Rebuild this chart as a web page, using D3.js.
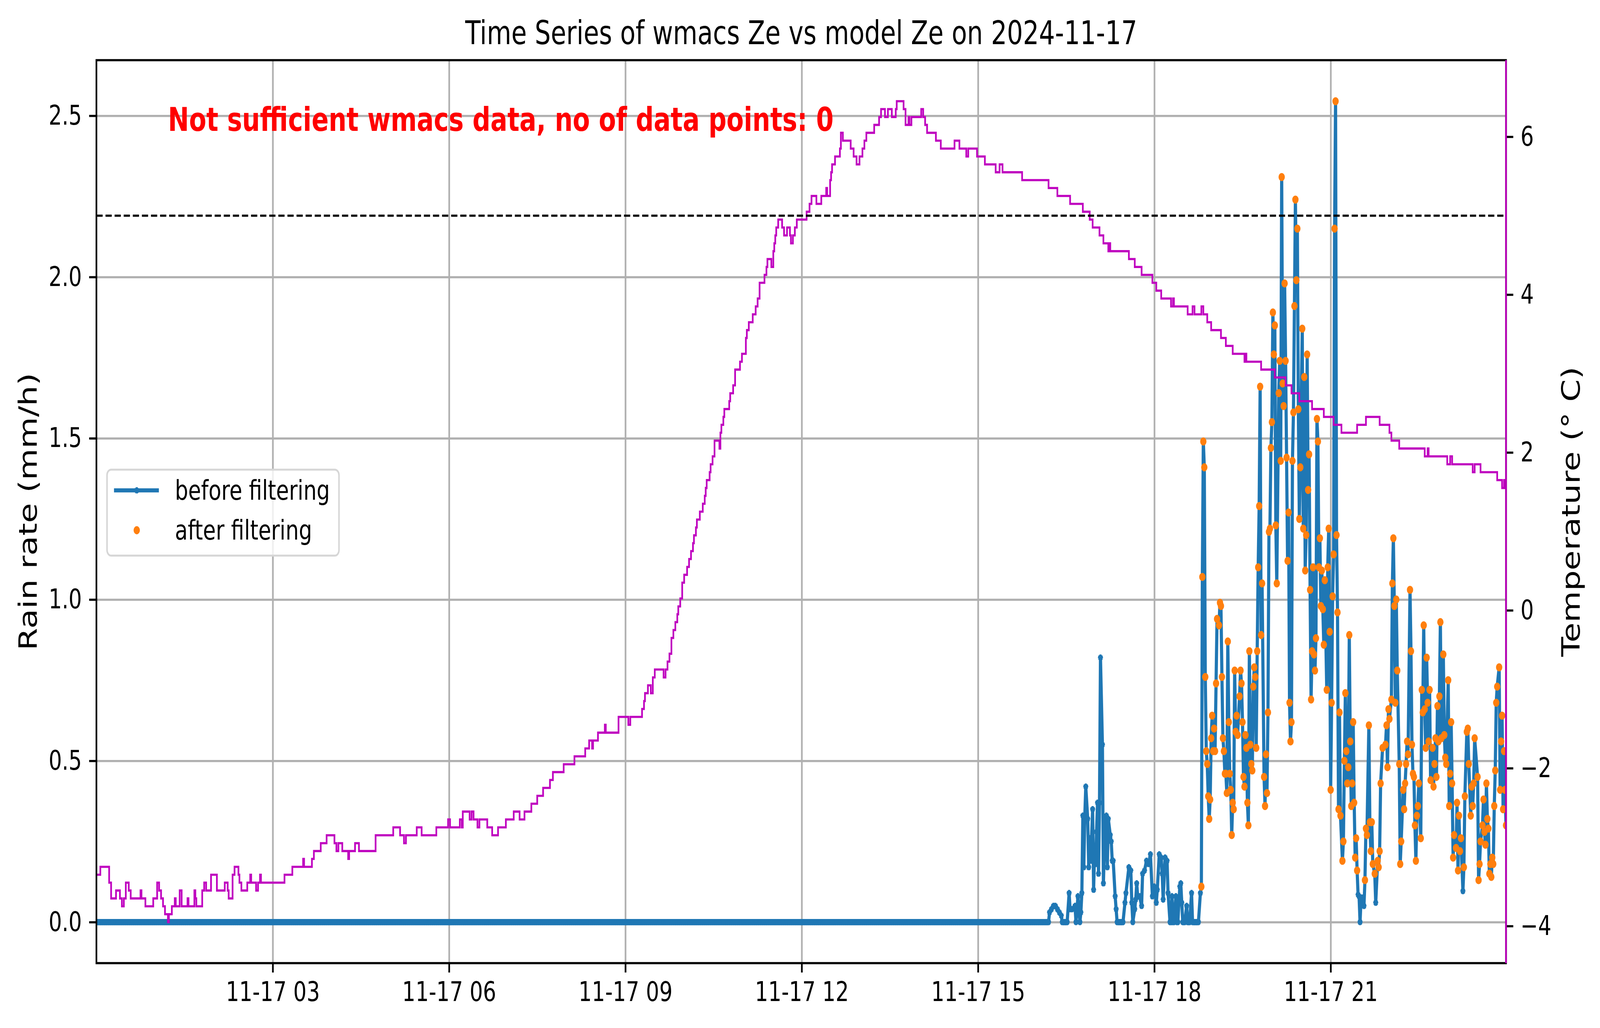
<!DOCTYPE html>
<html>
<head>
<meta charset="utf-8">
<script src="https://cdn.jsdelivr.net/npm/d3@7"></script>
<style>
  html, body { margin: 0; padding: 0; background: #fff; width: 100%; height: 100%; overflow: hidden; }
  #chart { width: 100vw; height: 100vh; }
  svg { display: block; width: 100%; height: 100%; font-family: "DejaVu Sans", sans-serif; }
</style>
</head>
<body>
<div id="chart"></div>
<script>
const W = 5277, H = 2631;
const margin = { top: 154, right: 310, bottom: 166, left: 318 };

// ---- data ----
// minutes after 2024-11-17 00:00
const dayStart = new Date(2024, 10, 17, 0, 0);
const lastMinute = 1439;
// rain rate is 0 every minute before this one
const firstWetMinute = 973;
// [minute, rain rate mm/h]
const rainReadings = [
  [973,0.03],[975,0.04],[977,0.05],[979,0.05],[981,0.04],[983,0.03],[985,0.02],
  [986,0],[987,0],[988,0],[989,0],[990,0],[991,0],
  [993,0.09],[994,0.04],[996,0.04],[999,0.05],[1000,0],[1002,0.08],[1004,0],[1005,0.03],[1006,0.09],
  [1007,0.33],[1008,0.17],[1009,0.33],[1010,0.42],[1012,0.32],[1013,0.17],[1014,0.26],[1015,0.19],
  [1017,0.35],[1018,0.10],[1019,0.22],[1020,0.18],[1021,0.28],[1022,0.37],[1023,0.15],[1024,0.37],
  [1025,0.82],[1027,0.55],[1028,0.12],[1029,0.23],[1030,0.32],[1031,0.33],[1032,0.17],[1033,0.32],
  [1035,0.27],[1036,0.25],[1037,0.19],[1038,0.19],[1040,0.08],[1041,0.04],
  [1042,0],[1043,0],[1044,0],[1045,0],[1046,0],[1047,0],[1048,0],
  [1050,0.06],[1051,0.09],[1054,0.17],[1056,0.16],[1057,0.06],[1058,0],[1060,0.04],[1061,0.07],
  [1062,0.12],[1063,0.08],[1065,0.08],[1067,0.05],[1068,0.15],[1070,0.16],[1072,0.19],[1074,0.18],
  [1076,0.21],[1078,0.08],[1080,0.11],[1082,0.06],[1083,0.10],[1085,0.21],[1087,0.20],[1088,0.15],
  [1089,0.07],[1091,0.20],[1093,0.19],[1094,0.09],[1096,0],[1097,0],[1098,0.08],[1099,0],[1100,0],
  [1102,0.08],[1103,0],[1104,0],[1106,0.11],[1107,0.12],[1108,0.06],[1109,0],[1110,0],[1111,0],
  [1113,0.05],[1114,0],[1115,0],[1116,0],[1118,0.09],[1119,0],[1120,0],[1121,0],[1122,0],[1123,0],
  [1124,0],[1125,0],[1127,0.09],
  [1128,0.11],[1129,1.07],[1130,1.49],[1131,1.41],[1132,0.76],[1133,0.53],[1134,0.49],[1135,0.39],
  [1136,0.32],[1137,0.38],[1138,0.57],[1139,0.64],[1140,0.53],[1141,0.60],[1142,0.53],[1143,0.74],
  [1144,0.94],[1146,0.92],[1147,0.99],[1148,0.98],[1149,0.76],[1150,0.57],[1151,0.53],[1152,0.46],
  [1153,0.46],[1154,0.40],[1155,0.87],[1156,0.62],[1157,0.46],[1158,0.41],[1159,0.27],[1160,0.37],
  [1161,0.35],[1162,0.78],[1163,0.59],[1164,0.64],[1165,0.58],[1167,0.70],[1168,0.78],[1169,0.74],
  [1170,0.62],[1171,0.45],[1172,0.42],[1173,0.58],[1174,0.54],[1175,0.37],[1176,0.30],[1177,0.84],
  [1178,0.55],[1179,0.49],[1180,0.47],[1181,0.73],[1182,0.79],[1183,0.76],[1184,0.54],[1185,0.84],
  [1186,1.10],[1187,1.29],[1188,1.66],[1189,0.89],[1190,1.05],[1192,0.45],[1193,0.36],[1194,0.52],
  [1195,0.40],[1196,0.65],[1197,1.21],[1198,1.22],[1199,1.47],[1200,1.55],[1201,1.89],[1202,1.76],
  [1203,1.85],[1204,1.23],[1205,1.05],[1207,1.64],[1208,1.74],[1209,1.43],[1210,2.31],[1211,1.67],
  [1212,1.60],[1213,1.98],[1214,1.74],[1215,1.44],[1216,1.12],[1217,1.27],[1218,0.68],[1219,0.56],
  [1220,0.62],[1221,1.43],[1222,1.58],[1223,1.91],[1224,2.24],[1225,1.99],[1226,2.15],[1227,1.59],
  [1228,1.25],[1229,1.41],[1231,1.84],[1232,1.22],[1233,1.69],[1234,1.09],[1235,1.20],[1236,1.76],
  [1237,1.34],[1238,1.45],[1239,1.03],[1240,0.69],[1241,0.84],[1242,1.10],[1243,0.83],[1244,0.78],
  [1245,0.88],[1246,1.56],[1247,1.49],[1248,1.10],[1249,1.19],[1250,0.98],[1251,1.09],[1252,0.97],
  [1253,0.86],[1254,1.06],[1256,0.72],[1257,1.10],[1258,1.22],[1259,0.90],[1260,0.41],[1261,0.68],
  [1262,1.01],[1263,1.14],[1264,2.15],[1265,2.545],[1266,1.20],[1267,0.96],[1268,0.35],[1269,0.65],
  [1270,0.33],[1272,0.19],[1273,0.25],[1274,0.50],[1275,0.71],[1276,0.53],[1277,0.43],[1278,0.48],
  [1279,0.89],[1280,0.56],[1281,0.36],[1282,0.43],[1283,0.62],[1284,0.37],[1285,0.20],[1286,0.26],
  [1287,0.16],[1288,0.085],[1289,0.08],[1290,0],[1291,0.07],[1292,0.076],[1294,0.05],[1295,0.13],
  [1296,0.29],[1297,0.27],[1299,0.61],[1300,0.31],[1301,0.22],[1302,0.31],[1303,0.18],[1305,0.15],
  [1306,0.06],[1308,0.19],[1309,0.17],[1310,0.22],[1311,0.43],[1313,0.54],[1316,0.55],[1317,0.61],
  [1318,0.48],[1319,0.66],[1320,0.63],[1322,0.69],[1323,1.05],[1324,1.19],[1325,0.98],[1326,0.68],
  [1327,1.00],[1328,0.78],[1330,0.49],[1331,0.18],[1332,0.25],[1334,0.41],[1335,0.35],[1336,0.43],
  [1337,0.49],[1338,0.56],[1339,0.52],[1341,1.03],[1342,0.84],[1343,0.55],[1344,0.46],[1345,0.45],
  [1346,0.30],[1347,0.19],[1348,0.33],[1349,0.36],[1350,0.43],[1352,0.26],[1353,0.72],[1354,0.65],
  [1355,0.92],[1356,0.66],[1357,0.54],[1358,0.82],[1359,0.68],[1360,0.56],[1361,0.72],[1362,0.44],
  [1364,0.54],[1365,0.42],[1366,0.49],[1367,0.57],[1368,0.45],[1369,0.67],[1370,0.56],[1371,0.70],
  [1372,0.93],[1373,0.57],[1375,0.83],[1376,0.58],[1377,0.51],[1378,0.49],[1380,0.75],[1381,0.36],
  [1382,0.46],[1383,0.62],[1384,0.43],[1385,0.20],[1386,0.27],[1388,0.23],[1389,0.37],[1390,0.16],
  [1391,0.33],[1392,0.22],[1393,0.26],[1395,0.096],[1396,0.17],[1397,0.39],[1399,0.59],[1400,0.60],
  [1401,0.49],[1403,0.33],[1404,0.42],[1405,0.36],[1406,0.43],[1407,0.57],[1410,0.45],[1411,0.13],
  [1412,0.18],[1413,0.25],[1415,0.30],[1416,0.38],[1417,0.28],[1418,0.24],[1419,0.43],[1420,0.32],
  [1421,0.29],[1422,0.15],[1423,0.18],[1424,0.14],[1425,0.20],[1426,0.18],[1427,0.36],[1428,0.47],
  [1429,0.68],[1430,0.73],[1432,0.79],[1433,0.41],[1434,0.56],[1435,0.64],[1436,0.35],[1437,0.53],
  [1438,0.41],[1439,0.30]
];
// the filtered series keeps readings from this minute on at or above minRate
const filterFrom = 1128;
const minRate = 0.1;

// temperature, [minute it changes, °C] (0.1 K sensor steps)
const tempSteps = [
  [0,-3.35],[4,-3.25],[13,-3.45],[15,-3.65],[20,-3.55],[24,-3.65],[26,-3.75],[28,-3.65],[30,-3.45],
  [33,-3.55],[35,-3.65],[45,-3.55],[46,-3.65],[50,-3.75],[58,-3.65],[62,-3.45],[64,-3.55],[66,-3.65],
  [68,-3.75],[70,-3.85],[73,-3.95],[74,-3.85],[77,-3.75],[80,-3.65],[81,-3.75],[85,-3.55],[87,-3.75],
  [93,-3.65],[94,-3.75],[100,-3.55],[101,-3.65],[102,-3.75],[108,-3.55],[110,-3.45],[112,-3.55],
  [117,-3.35],[123,-3.55],[131,-3.45],[134,-3.55],[135,-3.65],[139,-3.35],[141,-3.25],[145,-3.35],
  [146,-3.45],[148,-3.55],[154,-3.45],[157,-3.35],[158,-3.45],[163,-3.55],[165,-3.45],[167,-3.35],
  [168,-3.45],[192,-3.35],[200,-3.25],[211,-3.15],[212,-3.25],[220,-3.15],[222,-3.05],[229,-2.95],
  [235,-2.85],[243,-2.95],[245,-3.05],[247,-2.95],[251,-3.05],[257,-3.15],[258,-3.05],[264,-2.95],
  [268,-3.05],[285,-2.85],[303,-2.75],[310,-2.85],[314,-2.95],[316,-2.85],[327,-2.75],[332,-2.85],
  [347,-2.75],[359,-2.65],[361,-2.75],[371,-2.65],[373,-2.75],[374,-2.55],[381,-2.65],[383,-2.55],
  [385,-2.65],[389,-2.75],[391,-2.65],[399,-2.75],[404,-2.85],[410,-2.75],[418,-2.65],[426,-2.55],
  [432,-2.65],[437,-2.55],[444,-2.45],[450,-2.35],[456,-2.25],[463,-2.15],[466,-2.05],[477,-1.95],
  [488,-1.85],[499,-1.75],[503,-1.65],[506,-1.75],[507,-1.65],[512,-1.55],[519,-1.45],[520,-1.55],
  [533,-1.35],[543,-1.45],[545,-1.35],[557,-1.25],[559,-1.15],[560,-1.05],[563,-0.95],[566,-1.05],
  [568,-0.85],[570,-0.75],[579,-0.85],[581,-0.75],[583,-0.65],[585,-0.55],[587,-0.35],[589,-0.25],
  [591,-0.15],[593,-0.05],[594,0.05],[596,0.15],[598,0.35],[600,0.45],[603,0.55],[605,0.65],
  [607,0.75],[609,0.85],[610,0.95],[612,1.05],[613,1.15],[616,1.25],[619,1.35],[621,1.45],[622,1.55],
  [623,1.65],[626,1.75],[627,1.85],[629,1.95],[631,2.15],[636,2.05],[637,2.25],[638,2.35],[640,2.45],
  [641,2.55],[646,2.65],[647,2.75],[650,2.85],[652,3.05],[657,3.15],[659,3.25],[663,3.45],[664,3.55],
  [666,3.65],[670,3.75],[673,3.85],[675,3.95],[677,4.15],[682,4.25],[684,4.35],[685,4.45],[689,4.35],
  [691,4.55],[692,4.65],[693,4.75],[694,4.85],[696,4.95],[700,4.85],[702,4.75],[705,4.85],[708,4.75],
  [709,4.65],[711,4.75],[713,4.85],[715,4.95],[725,5.05],[728,5.15],[730,5.25],[735,5.15],[740,5.25],
  [745,5.35],[746,5.25],[749,5.45],[750,5.55],[751,5.65],[754,5.75],[759,5.85],[760,6.05],[762,5.95],
  [770,5.85],[773,5.75],[776,5.65],[779,5.75],[782,5.85],[784,5.95],[786,6.05],[794,6.15],[799,6.25],
  [801,6.35],[805,6.25],[808,6.35],[812,6.25],[816,6.35],[817,6.45],[824,6.35],[826,6.15],[829,6.25],
  [830,6.15],[832,6.25],[842,6.35],[844,6.25],[846,6.15],[848,6.05],[857,5.95],[862,5.85],[876,5.95],
  [881,5.85],[888,5.75],[890,5.85],[899,5.75],[907,5.65],[918,5.55],[922,5.65],[925,5.55],[945,5.45],
  [972,5.35],[981,5.25],[994,5.15],[1007,5.05],[1014,4.95],[1017,4.85],[1024,4.75],[1028,4.65],
  [1033,4.55],[1034,4.65],[1035,4.55],[1054,4.45],[1060,4.35],[1067,4.25],[1078,4.15],[1082,4.05],
  [1087,3.95],[1097,3.85],[1099,3.95],[1100,3.85],[1114,3.75],[1119,3.85],[1121,3.75],[1128,3.85],
  [1130,3.75],[1134,3.65],[1138,3.55],[1148,3.45],[1153,3.35],[1160,3.25],[1172,3.15],[1173,3.25],
  [1174,3.15],[1189,3.05],[1203,2.95],[1214,2.85],[1220,2.75],[1228,2.65],[1241,2.55],[1253,2.45],
  [1263,2.35],[1271,2.25],[1287,2.35],[1296,2.45],[1310,2.35],[1320,2.25],[1322,2.15],[1330,2.05],
  [1356,1.95],[1359,2.05],[1360,1.95],[1379,1.85],[1382,1.95],[1384,1.85],[1405,1.75],[1407,1.85],
  [1413,1.75],[1430,1.65],[1435,1.55],[1437,1.65],[1438,1.55],[1439,1.55]
];
const tempRef = 5;

const xTickHours = [3, 6, 9, 12, 15, 18, 21];
const rainTicks = [0, 0.5, 1, 1.5, 2, 2.5];
const tempTicks = [-4, -2, 0, 2, 4, 6];

const titleText = "Time Series of wmacs Ze vs model Ze on 2024-11-17";
const noteText = "Not sufficient wmacs data, no of data points: 0";

// ---- layout ----
const plotL = margin.left, plotR = W - margin.right;
const plotT = margin.top, plotB = H - margin.bottom;
const lw = 6.94; // one point in pixels

// the drawing is laid out on a 5277 x 2631 canvas and stretched over the window
const svg = d3.select("#chart").append("svg")
    .attr("viewBox", `0 0 ${W} ${H}`)
    .attr("preserveAspectRatio", "none");
svg.append("rect").attr("width", W).attr("height", H).attr("fill", "#fff");

const t = m => d3.timeMinute.offset(dayStart, m);

const rainSeries = d3.range(0, firstWetMinute).map(m => [m, 0]).concat(rainReadings);
const filtered = rainSeries.filter(d => d[0] >= filterFrom && d[1] >= minRate);

// matplotlib style 5% margins
function padded(ext) {
    const r = ext[1] - ext[0];
    return [ext[0] - 0.05 * r, ext[1] + 0.05 * r];
}

const x = d3.scaleTime()
    .domain([t(0), t(lastMinute)])
    .range([plotL, plotR]);
const yRain = d3.scaleLinear()
    .domain(padded(d3.extent(rainSeries, d => d[1])))
    .range([plotB, plotT]);
const yTemp = d3.scaleLinear()
    .domain(padded(d3.extent(tempSteps, d => d[1])))
    .range([plotB, plotT]);

const xTicks = xTickHours.map(h => d3.timeHour.offset(dayStart, h));

svg.append("clipPath").attr("id", "plot-clip")
    .append("rect")
    .attr("x", plotL).attr("y", plotT)
    .attr("width", plotR - plotL).attr("height", plotB - plotT);

// grid
const grid = svg.append("g");
grid.append("g")
    .attr("transform", `translate(0, ${plotB})`)
    .call(d3.axisBottom(x).tickValues(xTicks).tickSize(-(plotB - plotT)).tickFormat(""))
    .call(g => g.select(".domain").remove());
grid.append("g")
    .attr("transform", `translate(${plotL}, 0)`)
    .call(d3.axisLeft(yRain).tickValues(rainTicks).tickSize(-(plotR - plotL)).tickFormat(""))
    .call(g => g.select(".domain").remove());
grid.selectAll("line")
    .attr("stroke", "#b0b0b0")
    .attr("stroke-width", 0.8 * lw);

const plot = svg.append("g").attr("clip-path", "url(#plot-clip)");

// rain before filtering: line with star markers
const rainLine = d3.line()
    .x(d => x(t(d[0])))
    .y(d => yRain(d[1]));
plot.append("path")
    .datum(rainSeries)
    .attr("d", rainLine)
    .attr("fill", "none")
    .attr("stroke", "#1f77b4")
    .attr("stroke-width", 1.5 * lw)
    .attr("stroke-linejoin", "round");

const star = d3.symbol().type(d3.symbolStar).size(55);
plot.append("g")
    .selectAll("path")
    .data(rainSeries)
    .join("path")
    .attr("transform", d => `translate(${x(t(d[0]))}, ${yRain(d[1])})`)
    .attr("d", star)
    .attr("fill", "#1f77b4")
    .attr("stroke", "#1f77b4")
    .attr("stroke-width", lw)
    .attr("stroke-linejoin", "bevel");

// rain after filtering: dots
plot.append("g")
    .selectAll("circle")
    .data(filtered)
    .join("circle")
    .attr("cx", d => x(t(d[0])))
    .attr("cy", d => yRain(d[1]))
    .attr("r", 10.4)
    .attr("fill", "#ff7f0e");

// temperature
const tempLine = d3.line()
    .curve(d3.curveStepAfter)
    .x(d => x(t(d[0])))
    .y(d => yTemp(d[1]));
plot.append("path")
    .datum(tempSteps)
    .attr("d", tempLine)
    .attr("fill", "none")
    .attr("stroke", "#bf00bf")
    .attr("stroke-width", 0.8 * lw);

plot.append("line")
    .attr("x1", plotL).attr("x2", plotR)
    .attr("y1", yTemp(tempRef)).attr("y2", yTemp(tempRef))
    .attr("stroke", "#000")
    .attr("stroke-width", 0.8 * lw)
    .attr("stroke-dasharray", "20.5,9.5");

// axes
function styleAxis(g) {
    g.select(".domain").remove();
    g.selectAll("line").attr("stroke", "#000").attr("stroke-width", 0.8 * lw);
    g.selectAll("text")
        .attr("font-family", "DejaVu Sans")
        .attr("font-size", 69)
        .attr("fill", "#000");
}

svg.append("g")
    .attr("transform", `translate(0, ${plotB})`)
    .call(d3.axisBottom(x).tickValues(xTicks).tickFormat(d3.timeFormat("%m-%d %H"))
        .tickSize(24).tickPadding(24).tickSizeOuter(0))
    .call(styleAxis);

svg.append("g")
    .attr("transform", `translate(${plotL}, 0)`)
    .call(d3.axisLeft(yRain).tickValues(rainTicks).tickFormat(d3.format(".1f"))
        .tickSize(24).tickPadding(24).tickSizeOuter(0))
    .call(styleAxis);

svg.append("g")
    .attr("transform", `translate(${plotR}, 0)`)
    .call(d3.axisRight(yTemp).tickValues(tempTicks).tickFormat(d3.format("d"))
        .tickSize(24).tickPadding(24).tickSizeOuter(0))
    .call(styleAxis);

// spines
svg.append("rect")
    .attr("x", plotL).attr("y", plotT)
    .attr("width", plotR - plotL).attr("height", plotB - plotT)
    .attr("fill", "none")
    .attr("stroke", "#000")
    .attr("stroke-width", 0.8 * lw)
    .attr("stroke-linecap", "square");
svg.append("line")
    .attr("x1", plotR).attr("x2", plotR)
    .attr("y1", plotT).attr("y2", plotB)
    .attr("stroke", "#bf00bf")
    .attr("stroke-width", 0.8 * lw);

// legend
const legend = svg.append("g").attr("transform", "translate(353, 1202)");
legend.append("rect")
    .attr("width", 765).attr("height", 220)
    .attr("rx", 14).attr("ry", 14)
    .attr("fill", "#fff").attr("fill-opacity", 0.8)
    .attr("stroke", "#d6d6d6")
    .attr("stroke-width", 5);
legend.append("line")
    .attr("x1", 23).attr("x2", 171)
    .attr("y1", 53).attr("y2", 53)
    .attr("stroke", "#1f77b4")
    .attr("stroke-width", 1.5 * lw);
legend.append("path")
    .attr("transform", "translate(98, 53)")
    .attr("d", star)
    .attr("fill", "#1f77b4")
    .attr("stroke", "#1f77b4")
    .attr("stroke-width", lw)
    .attr("stroke-linejoin", "bevel");
legend.append("circle")
    .attr("cx", 98).attr("cy", 155)
    .attr("r", 10.4)
    .attr("fill", "#ff7f0e");
legend.selectAll("text.lbl")
    .data(["before filtering", "after filtering"])
    .join("text")
    .attr("class", "lbl")
    .attr("x", 224)
    .attr("y", (d, i) => 77 + i * 102)
    .attr("font-size", 69)
    .attr("fill", "#000")
    .text(d => d);

// texts
svg.append("text")
    .attr("x", (plotL + plotR) / 2)
    .attr("y", 113)
    .attr("text-anchor", "middle")
    .attr("font-size", 83)
    .attr("fill", "#000")
    .text(titleText);

svg.append("text")
    .attr("x", 554)
    .attr("y", 335)
    .attr("font-size", 83)
    .attr("font-weight", "bold")
    .attr("fill", "#ff0000")
    .text(noteText);

svg.append("text")
    .attr("transform", `translate(121, ${(plotT + plotB) / 2}) rotate(-90)`)
    .attr("text-anchor", "middle")
    .attr("font-size", 83)
    .attr("fill", "#000")
    .text("Rain rate (mm/h)");

svg.append("text")
    .attr("transform", `translate(5210, ${(plotT + plotB) / 2}) rotate(-90)`)
    .attr("text-anchor", "middle")
    .attr("font-size", 83)
    .attr("fill", "#000")
    .text("Temperature (° C)");
</script>
</body>
</html>
